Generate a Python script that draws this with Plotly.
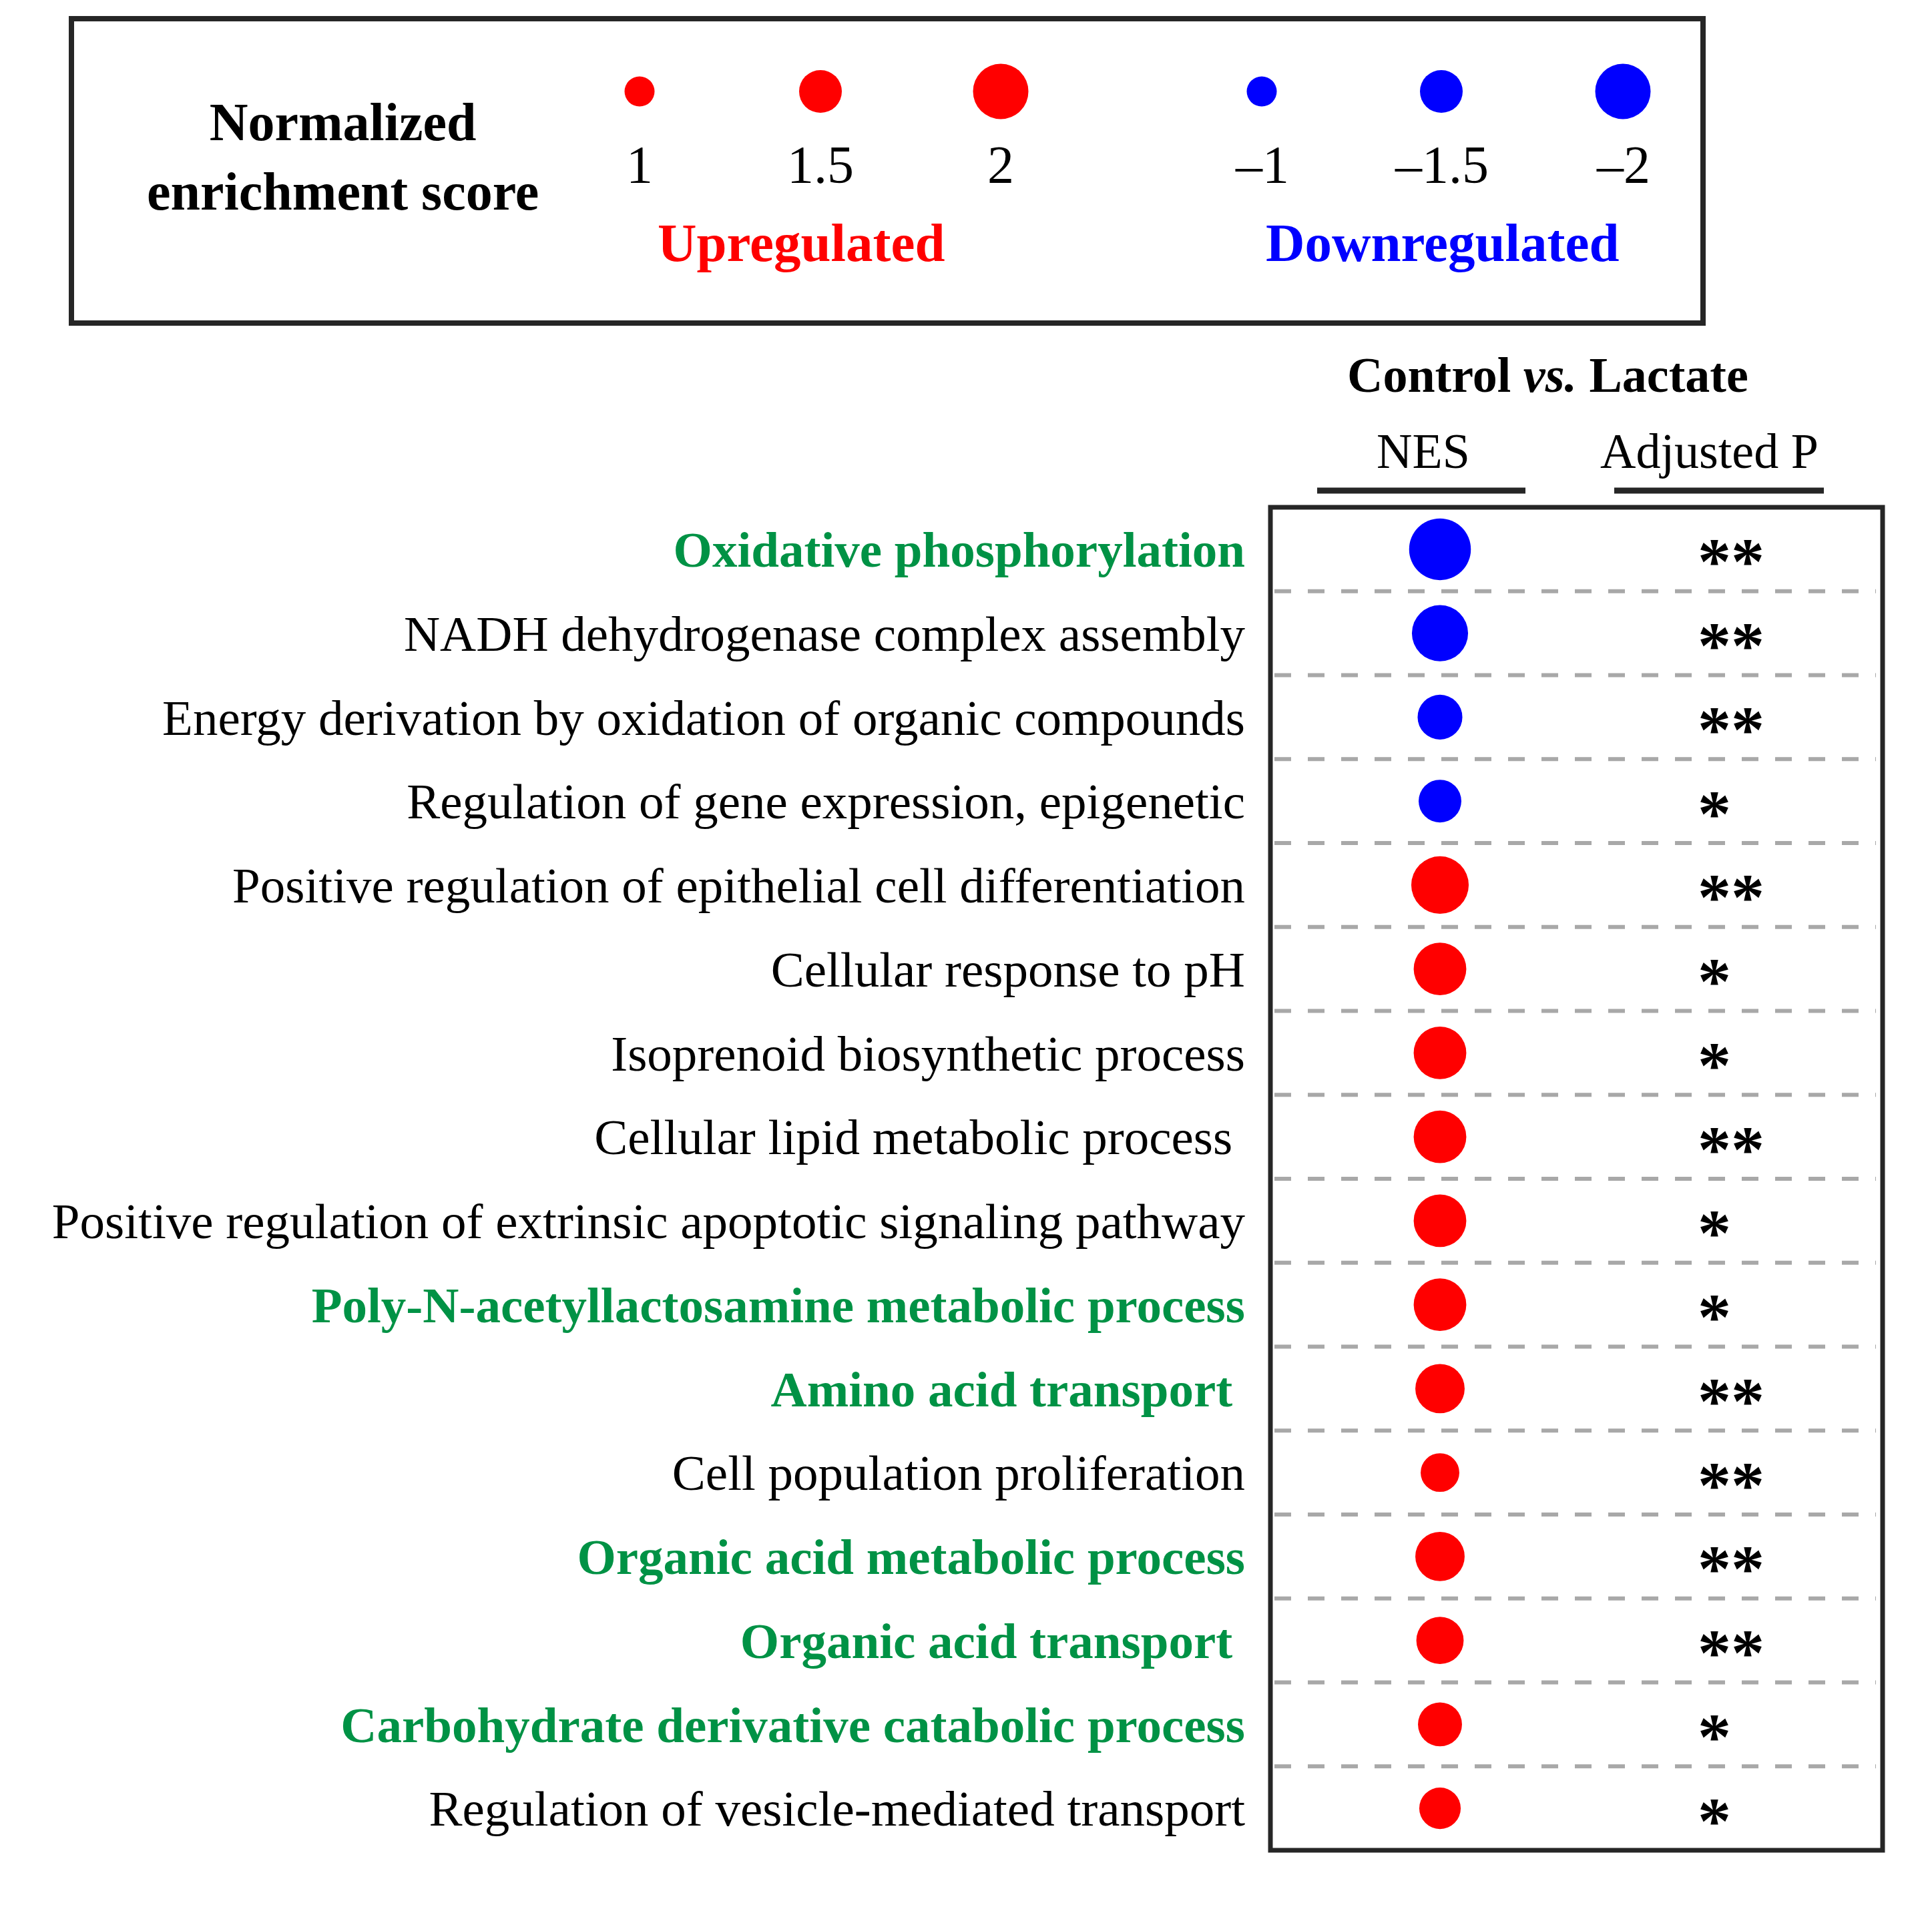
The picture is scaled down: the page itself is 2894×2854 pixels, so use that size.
import plotly.graph_objects as go

# ---------------- data ----------------
pathways = [
    "Oxidative phosphorylation",
    "NADH dehydrogenase complex assembly",
    "Energy derivation by oxidation of organic compounds",
    "Regulation of gene expression, epigenetic",
    "Positive regulation of epithelial cell differentiation",
    "Cellular response to pH",
    "Isoprenoid biosynthetic process",
    "Cellular lipid metabolic process ",
    "Positive regulation of extrinsic apoptotic signaling pathway",
    "Poly-N-acetyllactosamine metabolic process",
    "Amino acid transport ",
    "Cell population proliferation",
    "Organic acid metabolic process",
    "Organic acid transport ",
    "Carbohydrate derivative catabolic process",
    "Regulation of vesicle-mediated transport",
]
nes = [-2.25, -2.03, -1.58, -1.50, 2.08, 1.89, 1.89, 1.89, 1.89, 1.89,
       1.76, 1.34, 1.76, 1.68, 1.55, 1.45]
adj_p = ["**", "**", "**", "*", "**", "*", "*", "**", "*", "*",
         "**", "**", "**", "**", "*", "*"]
highlighted = [True, False, False, False, False, False, False, False, False, True,
               True, False, True, True, True, False]

legend_values = [1, 1.5, 2, -1, -1.5, -2]
legend_labels = ["1", "1.5", "2", "\u20131", "\u20131.5", "\u20132"]

# ---------------- style / layout constants ----------------
W, H = 2894, 2854          # target canvas (reference pixel coordinates)
PAGE_MARGIN = 8            # default body margin of the html page
FW, FH = W - 2 * PAGE_MARGIN, H - 2 * PAGE_MARGIN
FONT = "Liberation Serif"
RED, BLUE, GREEN = "#FF0000", "#0000FF", "#009245"
BORDER = "#262626"
GRID = "#A8A8A8"

def dot_size(v):
    return 45 + 38 * (abs(v) - 1)

def px(x):
    return (x - PAGE_MARGIN) / FW

def py(y):
    return 1 - (y - PAGE_MARGIN) / FH

BOX = dict(x0=1903, x1=2820, y0=760, y1=2772)
NES_COL_X = 2157
P_COL_X = 2541
LEG_X = [958, 1229, 1499, 1890, 2159, 2431]
LEG_DOT_Y = 137

fig = go.Figure()

# main dots
fig.add_trace(go.Scatter(
    x=[NES_COL_X] * len(pathways), y=pathways, mode="markers",
    marker=dict(size=[dot_size(v) for v in nes],
                color=[RED if v > 0 else BLUE for v in nes],
                line=dict(width=0), opacity=1),
    xaxis="x", yaxis="y", showlegend=False, hoverinfo="skip", cliponaxis=False,
))

# legend dots
fig.add_trace(go.Scatter(
    x=LEG_X, y=[LEG_DOT_Y] * len(legend_values), mode="markers",
    marker=dict(size=[dot_size(v) for v in legend_values],
                color=[RED if v > 0 else BLUE for v in legend_values],
                line=dict(width=0), opacity=1),
    xaxis="x2", yaxis="y2", showlegend=False, hoverinfo="skip", cliponaxis=False,
))

def fmt(name, hl):
    t = name.replace(" ", "\u00a0") if name.endswith(" ") else name
    if hl:
        return f"<span style='color:{GREEN}'><b>{t}</b></span>"
    return t

annotations = []
# stars
for name, s in zip(pathways, adj_p):
    annotations.append(dict(
        x=P_COL_X, y=name, xref="x", yref="y", text=f"<b>{s}</b>", showarrow=False,
        xanchor="left", yanchor="middle", yshift=-18,
        font=dict(family=FONT, size=100, color="black")))

# legend numbers
for xv, lab in zip(LEG_X, legend_labels):
    annotations.append(dict(
        x=xv, y=247, xref="x2", yref="y2", text=lab, showarrow=False,
        xanchor="center", yanchor="middle",
        font=dict(family=FONT, size=80, color="black")))

annotations += [
    dict(x=px(513), y=py(235), xref="paper", yref="paper",
         text="<b>Normalized<br>enrichment score</b>", showarrow=False,
         xanchor="center", yanchor="middle", align="center",
         font=dict(family=FONT, size=80, color="black")),
    dict(x=px(1200), y=py(364), xref="paper", yref="paper",
         text="<b>Upregulated</b>", showarrow=False, xanchor="center", yanchor="middle",
         font=dict(family=FONT, size=81, color=RED)),
    dict(x=px(2161), y=py(364), xref="paper", yref="paper",
         text="<b>Downregulated</b>", showarrow=False, xanchor="center", yanchor="middle",
         font=dict(family=FONT, size=81, color=BLUE)),
    dict(x=px(2318), y=py(562), xref="paper", yref="paper",
         text="<b>Control <i>vs.</i> Lactate</b>", showarrow=False,
         xanchor="center", yanchor="middle",
         font=dict(family=FONT, size=74, color="black")),
    dict(x=px(2132), y=py(676), xref="paper", yref="paper",
         text="NES", showarrow=False, xanchor="center", yanchor="middle",
         font=dict(family=FONT, size=74, color="black")),
    dict(x=px(2560), y=py(676), xref="paper", yref="paper",
         text="Adjusted P", showarrow=False, xanchor="center", yanchor="middle",
         font=dict(family=FONT, size=74, color="black")),
]

shapes = []
# dashed separators between rows
for i in range(len(pathways) - 1):
    shapes.append(dict(type="line", xref="paper", yref="y",
                       x0=px(BOX["x0"] + 6), x1=px(BOX["x1"] - 10),
                       y0=i + 0.5, y1=i + 0.5,
                       line=dict(color=GRID, width=6, dash="25px,25px")))
# main box
shapes.append(dict(type="rect", xref="paper", yref="paper",
                   x0=px(BOX["x0"]), x1=px(BOX["x1"]),
                   y0=py(BOX["y1"]), y1=py(BOX["y0"]),
                   line=dict(color=BORDER, width=7)))
# legend box
shapes.append(dict(type="rect", xref="paper", yref="paper",
                   x0=px(107), x1=px(2551), y0=py(484), y1=py(28),
                   line=dict(color=BORDER, width=8)))
# column underlines
for x0, x1 in [(1973, 2285), (2418, 2732)]:
    shapes.append(dict(type="line", xref="paper", yref="paper",
                       x0=px(x0), x1=px(x1), y0=py(735), y1=py(735),
                       line=dict(color=BORDER, width=9)))

fig.update_layout(
    width=FW, height=FH,
    margin=dict(l=0, r=0, t=0, b=0),
    paper_bgcolor="white", plot_bgcolor="rgba(0,0,0,0)",
    font=dict(family=FONT, color="black"),
    xaxis=dict(domain=[px(BOX["x0"]), px(BOX["x1"])], range=[BOX["x0"], BOX["x1"]],
               showgrid=False, zeroline=False, showticklabels=False, showline=False,
               fixedrange=True),
    yaxis=dict(domain=[py(BOX["y1"]), py(BOX["y0"])], type="category",
               categoryorder="array", categoryarray=pathways,
               range=[len(pathways) - 0.5, -0.5],
               tickmode="array", tickvals=pathways,
               ticktext=[fmt(n, h) for n, h in zip(pathways, highlighted)],
               tickfont=dict(family=FONT, size=75, color="black"),
               ticks="", ticklabelstandoff=37,
               showgrid=False, zeroline=False, showline=False, fixedrange=True),
    xaxis2=dict(domain=[0, 1], range=[PAGE_MARGIN, W - PAGE_MARGIN], visible=False,
                fixedrange=True, anchor="y2"),
    yaxis2=dict(domain=[0, 1], range=[H - PAGE_MARGIN, PAGE_MARGIN], visible=False,
                fixedrange=True, anchor="x2"),
    annotations=annotations,
    shapes=shapes,
)

fig.write_html("out.html")
